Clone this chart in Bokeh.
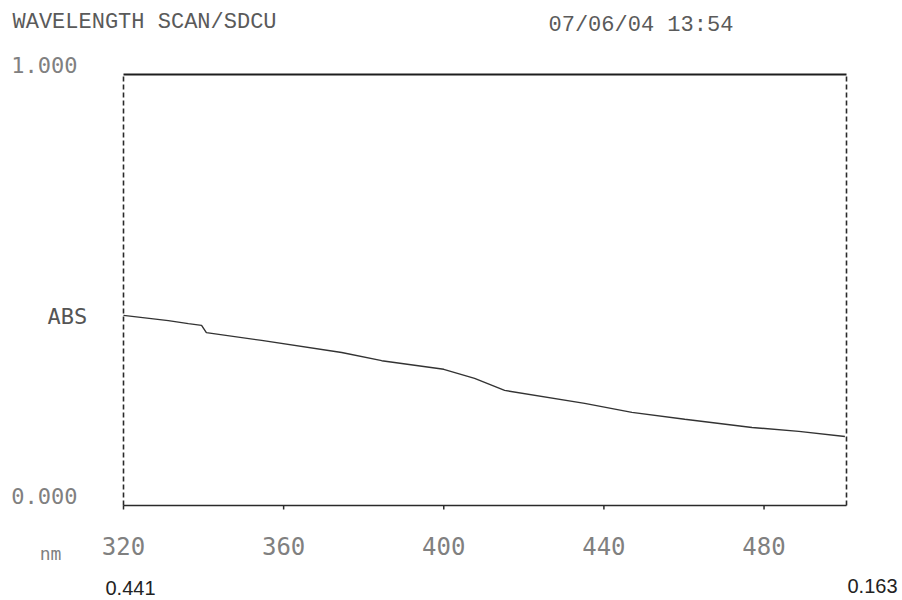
import math
from bokeh.plotting import figure
from bokeh.models import Range1d, Label
from bokeh.core.properties import value
from bokeh.embed import file_html
from bokeh.resources import INLINE

# Data (wavelength in nm, absorbance)
wavelength = [320, 331.2, 336.2, 339.5, 340.7, 354.5, 374.5, 384.5, 400.0,
              407.7, 415.2, 435.2, 447.0, 460.2, 477.0, 488.7, 500.2]
absorbance = [0.441, 0.429, 0.422, 0.418, 0.401, 0.383, 0.355, 0.336, 0.316,
              0.295, 0.267, 0.237, 0.216, 0.200, 0.181, 0.172, 0.160]
x_ticks = [320, 360, 400, 440, 480]
x_tick_labels = ["320", "360", "400", "440", "480"]
y_ticks = [0, 1]
y_tick_labels = ["0.000", "1.000"]
title_text = "WAVELENGTH SCAN/SDCU"
date_text = "07/06/04 13:54"
y_name = "ABS"
x_name = "nm"
start_value = "0.441"
end_value = "0.163"

# plot window (scan axis limits)
x_min, x_max = 320, 500.6
y_min, y_max = 0, 1

# canvas layout in pixels
W, H = 902, 600
left, right, top, bottom = 123, 56, 74, 95
sx = (W - left - right) / (x_max - x_min)
sy = (H - top - bottom) / (y_max - y_min)
x_range = Range1d(x_min - left / sx, x_max + right / sx)
y_range = Range1d(y_min - bottom / sy, y_max + top / sy)

p = figure(width=W, height=H, output_backend="svg", toolbar_location=None,
           x_range=x_range, y_range=y_range,
           x_axis_location=None, y_axis_location=None,
           min_border=0)
p.grid.visible = False
p.outline_line_color = None
p.background_fill_color = "white"
p.border_fill_color = "white"

mono = "DejaVu Sans Mono"
gray = "#808080"
ink = "#2a2a2a"

# frame: solid top/bottom, dashed left/right
p.line([x_min, x_max], [y_max, y_max], line_color="#1e1e1e", line_width=2)
p.line([x_min, x_max], [y_min, y_min], line_color=ink, line_width=1.5)
p.line([x_min, x_min], [y_min, y_max], line_color=ink, line_width=1.6, line_dash="5 3")
p.line([x_max, x_max], [y_min, y_max], line_color=ink, line_width=1.6, line_dash="5 3")

# x ticks and labels
p.ray(x=x_ticks, y=[y_min] * len(x_ticks), length=4, length_units="screen",
      angle=-math.pi / 2, line_color=ink, line_width=1.5)
p.text(x=x_ticks, y=[y_min] * len(x_ticks), text=x_tick_labels, y_offset=40,
       text_font=value(mono), text_font_size="24px", text_color=gray,
       text_align="center", text_baseline="middle")

# y tick labels
p.text(x=[x_min] * len(y_ticks), y=y_ticks, text=y_tick_labels, x_offset=-46, y_offset=-10,
       text_font=value(mono), text_font_size="22px", text_color=gray,
       text_align="right", text_baseline="middle")

# spectrum
p.line(wavelength, absorbance, line_color="#333333", line_width=1.4)

# other texts: canvas pixels (x from left, y from bottom)
def lab(txt, x, y_from_top, font, size, color, align="left"):
    p.add_layout(Label(x=x, y=H - y_from_top, x_units="screen", y_units="screen", text=txt,
                       text_font=font, text_font_size=size, text_color=color,
                       text_align=align, text_baseline="alphabetic"))

lab(title_text, 12, 22, "Liberation Mono", "22px", "#5a5a5a")
lab(date_text, 548, 25, "Liberation Mono", "22px", "#5a5a5a")
lab(y_name, 47, 316, mono, "22px", "#555555")
lab(x_name, 50, 553, mono, "18px", gray, align="center")
lab(start_value, 105, 587, "Liberation Sans", "20px", "#222222")
lab(end_value, 897, 585, "Liberation Sans", "20px", "#222222", align="right")

open("out.html", "w").write(file_html(p, INLINE))
